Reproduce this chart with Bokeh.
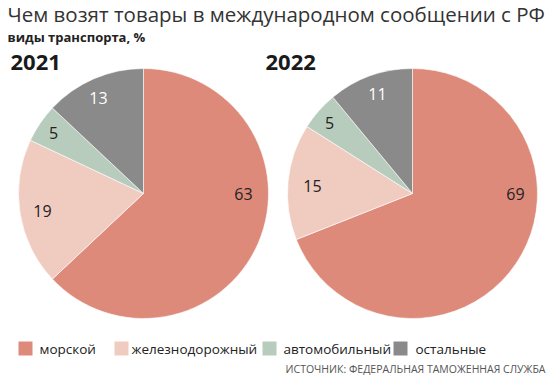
import math
from bokeh.plotting import figure
from bokeh.models import Range1d, ColumnDataSource
from bokeh.core.properties import value
from bokeh.embed import file_html
from bokeh.resources import INLINE

# ---- data ----
title = "Чем возят товары в международном сообщении с РФ"
subtitle = "виды транспорта, %"
source_note = "ИСТОЧНИК: ФЕДЕРАЛЬНАЯ ТАМОЖЕННАЯ СЛУЖБА"
categories = ["морской", "железнодорожный", "автомобильный", "остальные"]
years = ["2021", "2022"]
values_2021 = [63, 19, 5, 13]
values_2022 = [69, 15, 5, 11]

# ---- style / layout ----
colors = ["#DD8A7A", "#F0CBC0", "#B8CCBE", "#8A8A8A"]
label_colors = ["#222222", "#222222", "#222222", "#FFFFFF"]
W, H = 553, 380
FONT = "Open Sans"

def py(page_y):
    return H - page_y

def px(page_x):
    return page_x

p = figure(width=W, height=H, output_backend="svg", toolbar_location=None,
           x_range=Range1d(0, W), y_range=Range1d(0, H), min_border=0)
p.axis.visible = False
p.grid.visible = False
p.outline_line_color = None
p.background_fill_color = "white"
p.border_fill_color = "white"

pies = [
    (values_2021, px(143), py(193), 125, px(10),
     [(100, 0), (-101, -17), (-90, 61), (-45, 96)]),
    (values_2022, px(412), py(193), 125, px(265),
     [(103, 0), (-100, 8), (-83, 71), (-35, 100)]),
]

for (vals, cx, cy, r, yx, offs), yr in zip(pies, years):
    total = float(sum(vals))
    starts, ends = [], []
    cum = 0.0
    for v in vals:
        starts.append(math.pi / 2 - 2 * math.pi * cum / total)
        cum += v
        ends.append(math.pi / 2 - 2 * math.pi * cum / total)
    src = ColumnDataSource(dict(x=[cx] * len(vals), y=[cy] * len(vals),
                                start=starts, end=ends, color=colors))
    p.wedge(x="x", y="y", radius=r, start_angle="start", end_angle="end",
            direction="clock", fill_color="color", line_color="white",
            line_width=0.6, source=src)
    lsrc = ColumnDataSource(dict(x=[cx + o[0] for o in offs],
                                 y=[cy + o[1] for o in offs],
                                 t=[str(v) for v in vals], c=label_colors))
    p.text(x="x", y="y", text="t", text_color="c", source=lsrc,
           text_font=value(FONT), text_font_size="16px",
           text_align="center", text_baseline="middle")
    p.text(x=[yx], y=[py(62)], text=[yr], text_font=value(FONT),
           text_font_size="22px", text_font_style="bold", text_color="#1a1a1a",
           text_align="left", text_baseline="middle")

# title & subtitle
p.text(x=[px(7)], y=[py(13)], text=[title], text_font=value(FONT),
       text_font_size="20.5px", text_color="#333333",
       text_align="left", text_baseline="middle")
p.text(x=[px(7)], y=[py(36)], text=[subtitle], text_font=value(FONT),
       text_font_size="13px", text_font_style="bold", text_color="#222222",
       text_align="left", text_baseline="middle")

# legend
sq_x = [px(18), px(114), px(262), px(393)]
tx_x = [px(39), px(131), px(283), px(415)]
ly = py(348)
p.rect(x=[x + 7 for x in sq_x], y=[ly] * 4, width=14, height=14,
       fill_color=colors, line_color=None)
p.text(x=tx_x, y=[ly] * 4, text=categories, text_font=value(FONT),
       text_font_size="13.5px", text_color="#222222",
       text_align="left", text_baseline="middle")

# source
p.text(x=[px(545)], y=[py(368)], text=[source_note], text_font=value(FONT),
       text_font_size="10.5px", text_color="#555555",
       text_align="right", text_baseline="middle")

open("out.html", "w").write(file_html(p, INLINE))
